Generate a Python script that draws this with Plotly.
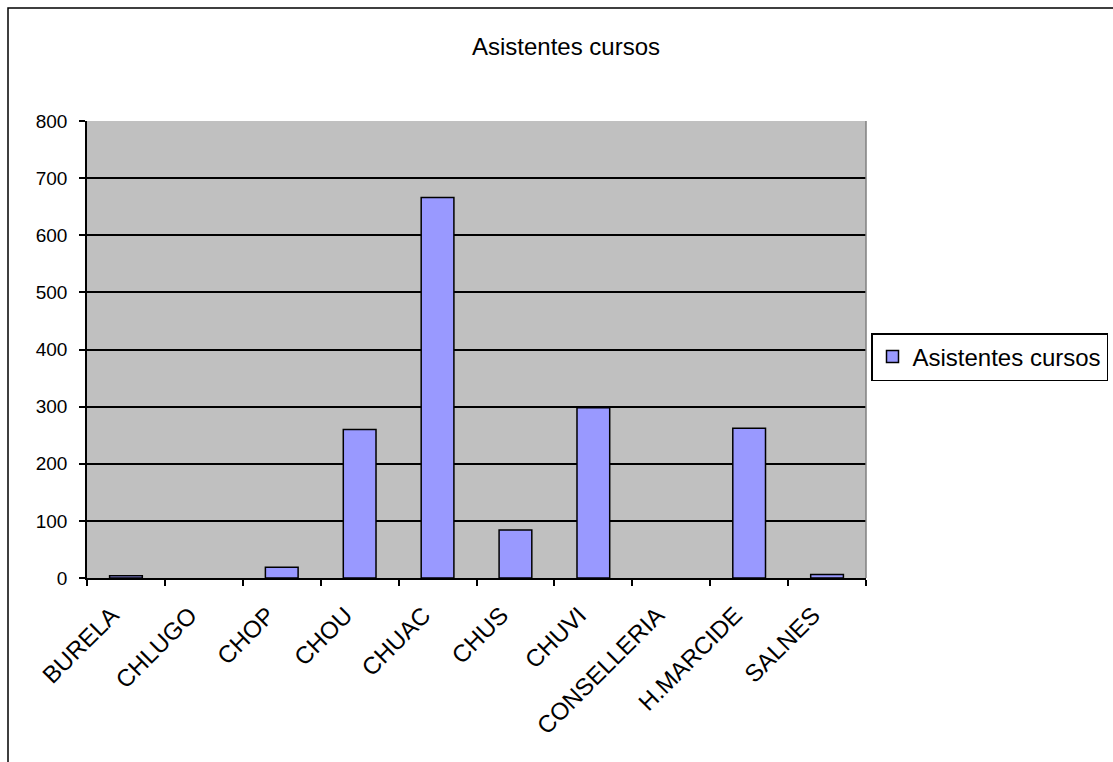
import plotly.graph_objects as go

categories = ["BURELA", "CHLUGO", "CHOP", "CHOU", "CHUAC", "CHUS", "CHUVI",
              "CONSELLERIA", "H.MARCIDE", "SALNES"]
asistentes = [4, 0, 19, 260, 666, 84, 298, 0, 262, 6]
y_ticks = [0, 100, 200, 300, 400, 500, 600, 700, 800]

W, H = 1113, 762
L, R, T, B = 87, 866, 121, 578
pw, ph = R - L, B - T

def px(x):
    return (x - L) / pw

def py(y):
    return (B - y) / ph

font = "Liberation Sans, Arial, sans-serif"

fig = go.Figure()
fig.add_trace(go.Bar(
    x=categories, y=asistentes, name="Asistentes cursos",
    marker=dict(color="#9999FF",
                line=dict(color="black",
                          width=[1.5 if v > 0 else 0 for v in asistentes])),
    width=0.42,
))

fig.update_layout(
    width=W, height=H,
    margin=dict(l=L, r=W - R, t=T, b=H - B, autoexpand=False),
    paper_bgcolor="white", plot_bgcolor="#C0C0C0",
    font=dict(family=font, size=17, color="black"),
    title=dict(text="Asistentes cursos", x=566 / W, xanchor="center",
               y=1 - 47 / H, yanchor="middle",
               font=dict(family=font, size=24, color="black")),
    showlegend=True,
    legend=dict(x=px(871), y=py(333), xanchor="left", yanchor="top",
                bgcolor="white", bordercolor="black", borderwidth=1.5,
                font=dict(family=font, size=24, color="black"),
                itemwidth=30, tracegroupgap=0),
    xaxis=dict(type="category", tickangle=-45, tickson="boundaries",
               ticks="outside", ticklen=6, tickcolor="black", tickwidth=1.5,
               showline=True, linecolor="black", linewidth=1.5,
               showgrid=False, range=[-0.5, 9.5],
               ticklabelshift=-14, ticklabelstandoff=12,
               tickfont=dict(family=font, size=24, color="black")),
    yaxis=dict(range=[0, 800], tickvals=y_ticks, ticks="outside",
               ticklen=6, tickcolor="black", tickwidth=1.5,
               showline=True, linecolor="black", linewidth=1.5,
               showgrid=True, gridcolor="black", gridwidth=1.5,
               zeroline=False, ticklabelstandoff=8,
               tickfont=dict(family=font, size=19, color="black")),
    bargap=0.58,
)

# plot area right border (gray)
fig.add_shape(type="line", xref="paper", yref="paper", x0=1, x1=1, y0=0, y1=1,
              line=dict(color="#808080", width=1.5))
# outer chart frame
fig.add_shape(type="rect", xref="paper", yref="paper",
              x0=px(8), x1=px(1125), y0=py(8), y1=py(775),
              line=dict(color="black", width=1.5), layer="below")

fig.write_html("out.html", config={"displayModeBar": False},
               post_script="document.body.style.margin='0';document.body.style.overflow='hidden';")
